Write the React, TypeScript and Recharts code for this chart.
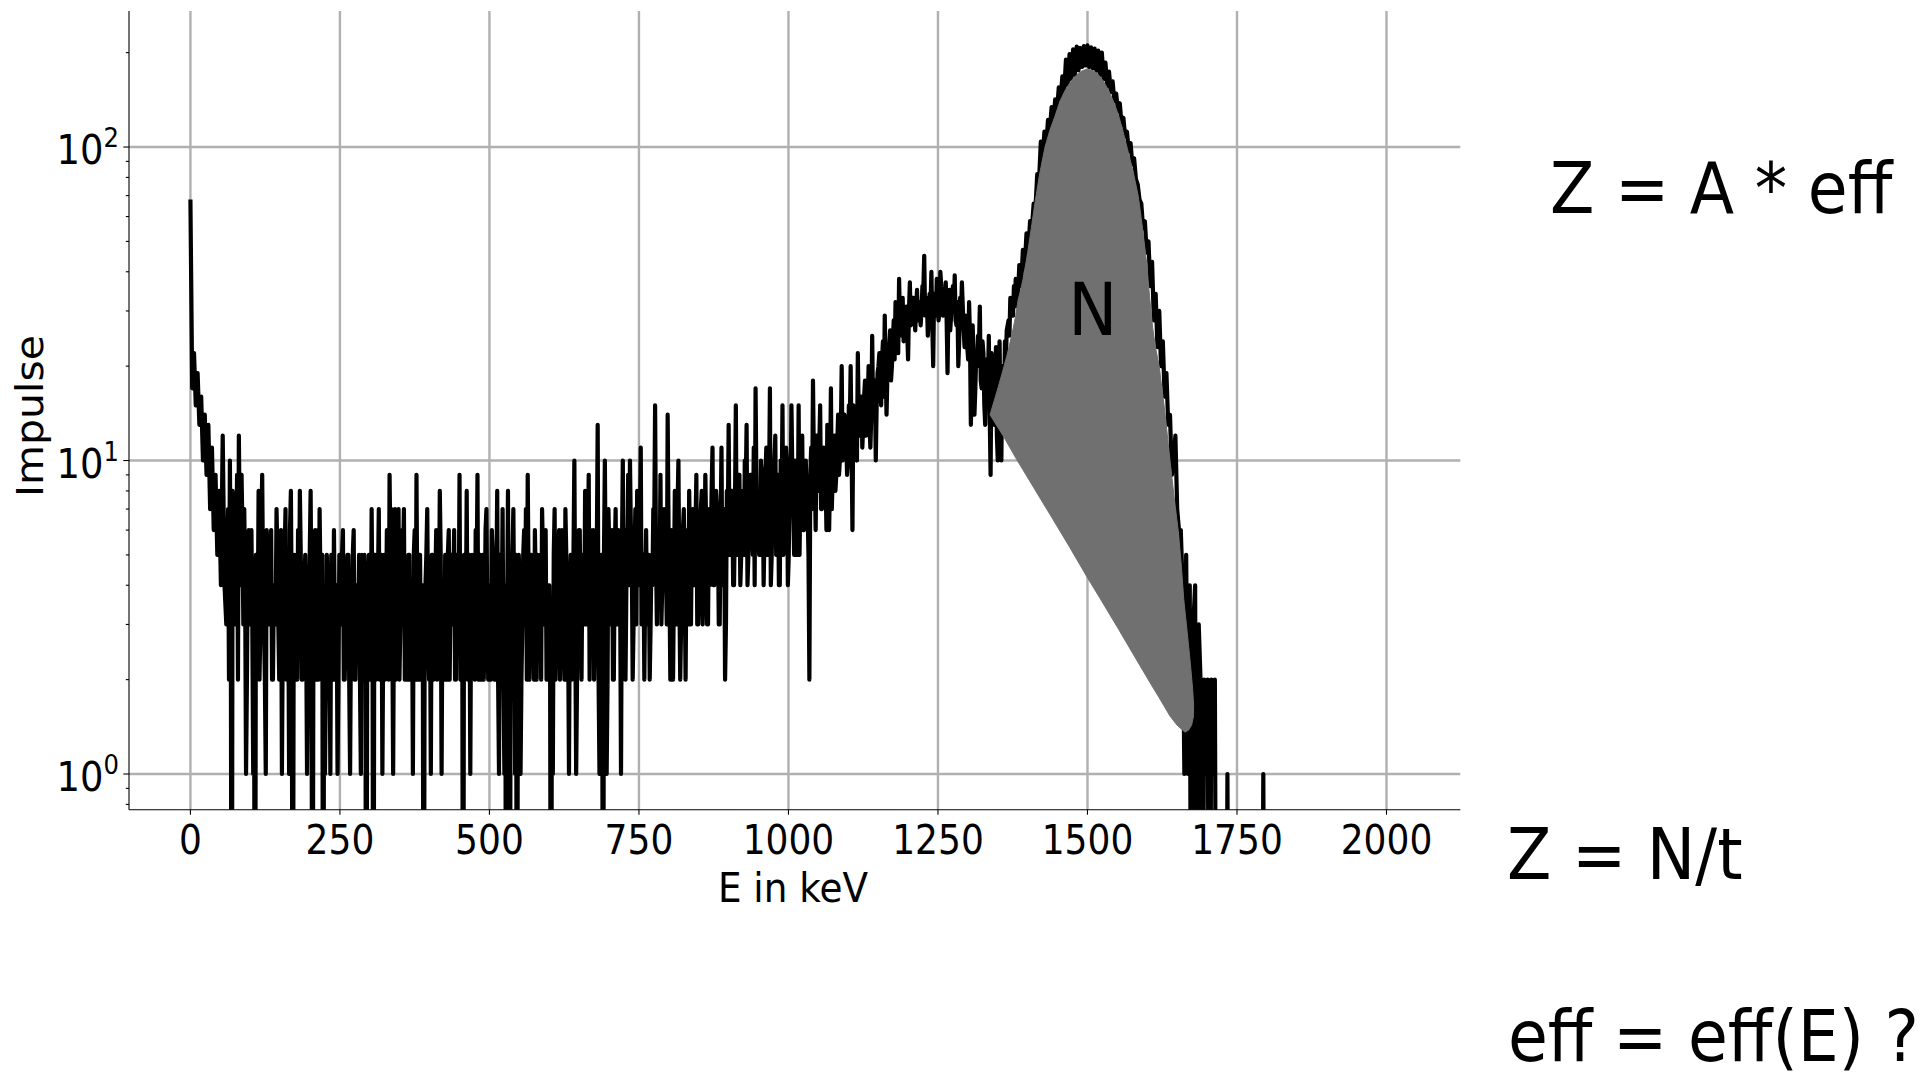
import React from 'react';
import { ComposedChart, Line, Scatter, XAxis, YAxis, CartesianGrid } from 'recharts';

// ---------- data ----------
// Counts per channel. Main channels every 3 keV from 0 keV,
// intermediate channels (offset 1.5 keV) from 61.5 keV to 1378.5 keV.
const ENERGY_STEP_KEV = 3;
const INTERMEDIATE_START_KEV = 61.5;

// 0 .. 357 keV
const countsLowEnergy = [
  68, 17, 22, 15, 19, 13, 16, 10, 14, 9, 13, 7, 11, 6, 9, 5, 8, 4, 12, 4,
  3, 7, 10, 0, 6, 3, 9, 12, 4, 6, 7, 1, 5, 3, 6, 1, 0, 4, 8, 3,
  9, 3, 1, 5, 3, 6, 2, 4, 7, 3, 5, 1, 4, 7, 2, 1, 8, 0, 5, 3,
  6, 8, 2, 4, 5, 1, 3, 8, 0, 4, 2, 6, 7, 3, 0, 1, 5, 2, 1, 4,
  6, 2, 1, 5, 3, 6, 2, 4, 5, 1, 3, 6, 2, 4, 5, 1, 3, 5, 0, 2,
  4, 7, 0, 5, 3, 7, 2, 1, 5, 3, 4, 9, 7, 1, 7, 5, 7, 3, 6, 7,
];

// 360 .. 777 keV
const countsPlateau = [
  4, 2, 5, 3, 1, 6, 9, 2, 5, 3, 0, 4, 7, 2, 1, 5, 3, 6, 4, 8,
  1, 3, 5, 2, 6, 4, 3, 6, 2, 5, 9, 3, 0, 4, 8, 2, 1, 5, 3, 6,
  9, 4, 2, 5, 3, 7, 2, 4, 6, 3, 5, 8, 1, 4, 7, 1, 0, 8, 0, 2,
  7, 1, 0, 5, 1, 3, 6, 7, 9, 2, 5, 3, 6, 2, 4, 5, 7, 3, 6, 2,
  4, 0, 1, 7, 3, 5, 2, 6, 4, 7, 2, 1, 5, 3, 10, 1, 4, 6, 2, 5,
  8, 3, 9, 6, 4, 2, 6, 13, 1, 5, 0, 10, 1, 7, 4, 6, 2, 7, 5, 3,
  1, 10, 6, 4, 9, 10, 5, 3, 7, 8, 4, 11, 3, 2, 6, 4, 2, 5, 7, 15,
];

// 780 .. 1137 keV
const countsRise = [
  3, 6, 9, 4, 7, 5, 14, 4, 6, 2, 8, 3, 10, 2, 5, 7, 2, 6, 8, 3,
  7, 4, 9, 3, 6, 8, 4, 9, 3, 7, 5, 11, 4, 8, 6, 3, 11, 5, 2, 8,
  13, 5, 8, 4, 15, 6, 9, 5, 8, 10, 13, 5, 9, 6, 11, 17, 7, 5, 10, 8,
  6, 11, 9, 17, 5, 8, 12, 7, 4, 10, 15, 6, 11, 4, 9, 15, 7, 10, 5, 15,
  8, 12, 6, 10, 7, 2, 11, 18, 9, 12, 8, 15, 7, 11, 9, 13, 6, 17, 9, 12,
  9, 14, 10, 20, 11, 13, 9, 15, 20, 6, 14, 11, 22, 12, 16, 13, 18, 14, 20, 11,
];

// 1140 .. 1377 keV
const countsComptonEdge = [
  25, 16, 10, 19, 22, 15, 24, 29, 14, 22, 26, 20, 28, 32, 23, 38, 29, 33, 26, 31,
  21, 37, 28, 33, 26, 35, 30, 27, 36, 45, 31, 25, 34, 40, 20, 33, 38, 28, 40, 34,
  30, 37, 19, 35, 29, 36, 39, 27, 20, 33, 37, 26, 29, 23, 32, 13, 27, 14, 22, 25,
  31, 17, 22, 13, 19, 25, 9, 20, 13, 23, 10, 24, 10, 18, 24, 26, 28, 33, 30, 36,
];

// 1380 .. 1800 keV
const countsPhotopeak = [
  38, 31, 42, 36, 47, 41, 53, 46, 58, 55, 66, 64, 82, 78, 104, 92, 112, 102, 122, 113,
  134, 120, 142, 130, 155, 142, 168, 150, 190, 158, 198, 165, 205, 170, 209, 176, 207, 180, 210, 182,
  211, 180, 208, 178, 206, 175, 203, 170, 200, 165, 186, 156, 174, 150, 162, 140, 148, 130, 138, 118,
  124, 108, 112, 97, 103, 88, 92, 79, 76, 68, 66, 55, 58, 46, 50, 36, 43, 28, 34, 23,
  30, 20, 24, 16, 19, 13, 14, 9, 10, 12, 7, 6, 6, 4, 1, 5, 1, 4, 0, 3,
  4, 0, 3, 2, 0, 2, 1, 2, 0, 2, 1, 2, 0, 0, 0, 0, 0, 0, 1, 0,
  0, 0, 0, 0, 0, 0, 0, 0, 0, 0, 0, 0, 0, 0, 0, 0, 0, 0, 1, 0,
  0,
];

// intermediate channels, 61.5 .. 1378.5 keV
const countsIntermediate = [
  5, 2, 4, 8, 3, 5, 2, 6, 9, 3, 4, 2, 6, 4, 3, 2, 5, 3, 2, 6,
  4, 2, 6, 3, 5, 2, 4, 3, 5, 2, 6, 3, 5, 2, 4, 6, 3, 2, 4, 2,
  3, 5, 2, 4, 3, 2, 5, 3, 2, 6, 3, 2, 4, 5, 3, 2, 4, 3, 5, 2,
  3, 4, 2, 3, 5, 2, 3, 5, 2, 3, 5, 2, 4, 3, 2, 5, 2, 4, 2, 5,
  2, 3, 5, 2, 4, 2, 5, 3, 2, 6, 2, 5, 3, 4, 2, 5, 2, 4, 5, 2,
  3, 5, 2, 4, 5, 2, 3, 5, 2, 4, 2, 5, 3, 4, 5, 2, 4, 2, 3, 5,
  4, 2, 3, 5, 2, 5, 4, 2, 5, 3, 2, 4, 5, 3, 2, 5, 4, 3, 2, 4,
  2, 5, 3, 2, 6, 3, 4, 2, 5, 2, 4, 2, 5, 3, 2, 4, 3, 2, 4, 5,
  3, 5, 2, 4, 2, 5, 3, 2, 4, 5, 3, 2, 4, 5, 3, 2, 5, 3, 2, 4,
  2, 3, 5, 2, 4, 6, 3, 4, 2, 5, 3, 4, 2, 5, 3, 2, 6, 3, 5, 3,
  4, 5, 2, 4, 6, 3, 5, 2, 4, 3, 5, 4, 2, 5, 3, 2, 5, 3, 6, 4,
  5, 3, 2, 5, 4, 6, 2, 5, 3, 4, 6, 3, 5, 4, 3, 5, 3, 4, 6, 5,
  5, 4, 3, 6, 4, 3, 6, 2, 5, 4, 3, 7, 4, 3, 6, 4, 5, 3, 5, 6,
  4, 6, 3, 4, 7, 3, 5, 6, 3, 4, 8, 4, 5, 7, 3, 6, 4, 7, 3, 6,
  5, 8, 4, 7, 5, 9, 4, 7, 5, 8, 4, 7, 9, 5, 4, 8, 6, 5, 9, 4,
  9, 5, 8, 4, 7, 10, 5, 9, 4, 7, 5, 8, 10, 5, 7, 9, 5, 8, 6, 5,
  10, 6, 9, 7, 5, 9, 7, 10, 6, 9, 11, 7, 10, 8, 6, 11, 9, 7, 11, 8,
  11, 9, 12, 10, 14, 12, 10, 13, 11, 15, 12, 10, 14, 13, 11, 16, 12, 15, 13, 14,
  14, 18, 15, 20, 17, 21, 16, 20, 19, 23, 18, 24, 21, 26, 22, 27, 25, 24, 28, 26,
  30, 27, 33, 29, 31, 28, 32, 30, 35, 29, 33, 28, 31, 27, 34, 29, 32, 30, 36, 29,
  33, 28, 31, 26, 33, 30, 28, 32, 24, 29, 31, 23, 27, 21, 25, 18, 22, 17, 20, 23,
  18, 24, 15, 21, 17, 14, 22, 16, 19, 12, 17, 13, 20, 15, 21, 27, 25, 30, 29, 31,
];

// Outline of the shaded peak area N: [E in keV, Impulse]
const peakAreaOutline: [number, number][] = [
  [1337, 14], [1344, 15.5], [1351, 17.2], [1358, 19.2], [1365, 21.5], [1371, 24],
  [1376, 26.5], [1380, 29], [1384, 32.5], [1389, 35.5], [1393, 38.5], [1400, 46],
  [1406, 55], [1412, 66], [1420, 82], [1429, 100], [1437, 113], [1446, 126],
  [1454, 140], [1463, 152], [1474, 164], [1485, 172], [1492, 175.5], [1499, 177],
  [1507, 176], [1516, 172], [1526, 163], [1535, 152], [1544, 139], [1552, 126],
  [1559, 113], [1566, 100], [1576, 84], [1585, 69.6], [1592, 55], [1599, 42.6],
  [1604, 33], [1609, 26.5], [1614, 22.8], [1620, 19.9], [1629, 14.5], [1638, 10],
  [1645, 7.6], [1652, 5.9], [1657, 4.6], [1661, 3.6], [1667, 2.8], [1672, 2.25],
  [1676, 1.85], [1677.5, 1.65], [1677, 1.52], [1674, 1.43], [1669, 1.38], [1663, 1.36],
  [1650, 1.43], [1638, 1.53], [1620, 1.75], [1605, 1.95], [1580, 2.35], [1550, 2.94],
  [1520, 3.66], [1499, 4.26], [1470, 5.3], [1440, 6.6], [1410, 8.2], [1380, 10.2],
  [1360, 11.9], [1337, 14],
];

const X_TICKS = [0, 250, 500, 750, 1000, 1250, 1500, 1750, 2000];
const Y_MAJOR_TICKS = [1, 10, 100];
const Y_MINOR_TICKS = [0.8, 0.9, 2, 3, 4, 5, 6, 7, 8, 9, 20, 30, 40, 50, 60, 70, 80, 90, 200];
const X_DOMAIN: [number, number] = [-102.7, 2123.4];
const Y_DOMAIN: [number, number] = [0.7694, 271.6];

// a log axis cannot show zero counts; they are drawn below the axis floor and clipped
const ZERO_FLOOR = 0.05;

const mainCounts = [
  ...countsLowEnergy,
  ...countsPlateau,
  ...countsRise,
  ...countsComptonEdge,
  ...countsPhotopeak,
];
const spectrumData = [
  ...mainCounts.map((c, i) => ({ x: i * ENERGY_STEP_KEV, c })),
  ...countsIntermediate.map((c, i) => ({ x: INTERMEDIATE_START_KEV + i * ENERGY_STEP_KEV, c })),
]
  .sort((a, b) => a.x - b.x)
  .map(({ x, c }) => ({ x, y: c > 0 ? c : ZERO_FLOOR }));
const peakAreaData = peakAreaOutline.map(([x, y]) => ({ x, y }));
const Y_TICKS = [...Y_MAJOR_TICKS, ...Y_MINOR_TICKS].sort((a, b) => a - b);

const FONT = "'DejaVu Sans', sans-serif";

function XTick(props: any) {
  const { x, y, payload } = props;
  return (
    <g>
      <line x1={x} x2={x} y1={y} y2={y + 5} stroke="#000" strokeWidth={1.1} />
      <text
        transform={`translate(${x},${y + 44.6}) scale(0.9,1)`}
        textAnchor="middle"
        fontFamily={FONT}
        fontSize={40}
        fill="#000"
      >
        {payload.value}
      </text>
    </g>
  );
}

function YTick(props: any) {
  const { x, y, payload } = props;
  const v = Number(payload.value);
  const isMajor = Y_MAJOR_TICKS.includes(v);
  const exp = Math.round(Math.log10(v));
  return (
    <g>
      <line x1={x - (isMajor ? 5.7 : 3.2)} x2={x} y1={y} y2={y} stroke="#000" strokeWidth={1.1} />
      {isMajor && (
        <text
          transform={`translate(${x - 10},${y + 17}) scale(0.9,1)`}
          textAnchor="end"
          fontFamily={FONT}
          fontSize={41}
          fill="#000"
        >
          10
          <tspan dy={-17} fontSize={27}>
            {exp}
          </tspan>
        </text>
      )}
    </g>
  );
}

const renderXLabel = () => (
  <text transform="translate(793,901.7) scale(0.9,1)" textAnchor="middle" fontFamily={FONT} fontSize={41.5} fill="#000">
    E in keV
  </text>
);

const renderYLabel = () => (
  <text transform="translate(42.5,416) scale(0.9,1) rotate(-90)" textAnchor="middle" fontFamily={FONT} fontSize={41} fill="#000">
    Impulse
  </text>
);

export default function App() {
  return (
    <div style={{ position: 'absolute', left: 0, top: 0, width: 1920, height: 1080, background: '#fff' }}>
      <ComposedChart
        width={1920}
        height={1080}
        margin={{ top: 11, right: 459.7, bottom: 170.3, left: 29 }}
      >
        <CartesianGrid
          horizontalValues={Y_MAJOR_TICKS}
          verticalValues={X_TICKS}
          stroke="#b0b0b0"
          strokeWidth={2.4}
        />
        <XAxis
          dataKey="x"
          type="number"
          domain={X_DOMAIN}
          allowDataOverflow
          ticks={X_TICKS}
          interval={0}
          tickSize={0}
          tickMargin={0}
          tickLine={false}
          tick={<XTick />}
          axisLine={{ stroke: '#000', strokeWidth: 1.1 }}
          height={100}
          label={renderXLabel}
        />
        <XAxis
          xAxisId="top"
          orientation="top"
          type="number"
          domain={X_DOMAIN}
          allowDataOverflow
          tick={false}
          tickLine={false}
          height={0}
          axisLine={{ stroke: '#000', strokeWidth: 1.1 }}
        />
        <YAxis
          dataKey="y"
          type="number"
          scale="log"
          domain={Y_DOMAIN}
          allowDataOverflow
          ticks={Y_TICKS}
          interval={0}
          tickSize={0}
          tickMargin={0}
          tickLine={false}
          tick={<YTick />}
          axisLine={{ stroke: '#000', strokeWidth: 1.1 }}
          width={100}
          label={renderYLabel}
        />
        <YAxis
          yAxisId="right"
          orientation="right"
          type="number"
          scale="log"
          domain={Y_DOMAIN}
          allowDataOverflow
          tick={false}
          tickLine={false}
          width={0}
          axisLine={{ stroke: '#000', strokeWidth: 1.1 }}
        />
        <Line
          data={spectrumData}
          dataKey="y"
          type="linear"
          stroke="#000"
          strokeWidth={4.2}
          strokeLinejoin="round"
          dot={false}
          activeDot={false}
          isAnimationActive={false}
        />
        <Scatter
          data={peakAreaData}
          dataKey="y"
          shape={() => <g />}
          line={{ fill: '#707070', stroke: '#707070', strokeWidth: 1 }}
          lineType="joint"
          isAnimationActive={false}
        />
      </ComposedChart>
      <svg
        width={1920}
        height={1080}
        style={{ position: 'absolute', left: 0, top: 0, pointerEvents: 'none' }}
      >
        <text transform="translate(1092.8,335) scale(0.9,1)" textAnchor="middle" fontFamily={FONT} fontSize={73} fill="#000">
          N
        </text>
        <text transform="translate(1550,213.3) scale(0.9,1)" fontFamily={FONT} fontSize={72} fill="#000">
          Z = A * eff
        </text>
        <text transform="translate(1507,879.3) scale(0.9,1)" fontFamily={FONT} fontSize={72} fill="#000">
          Z = N/t
        </text>
        <text transform="translate(1508,1061) scale(0.9,1)" fontFamily={FONT} fontSize={72} fill="#000">
          eff = eff(E) ?
        </text>
      </svg>
    </div>
  );
}
